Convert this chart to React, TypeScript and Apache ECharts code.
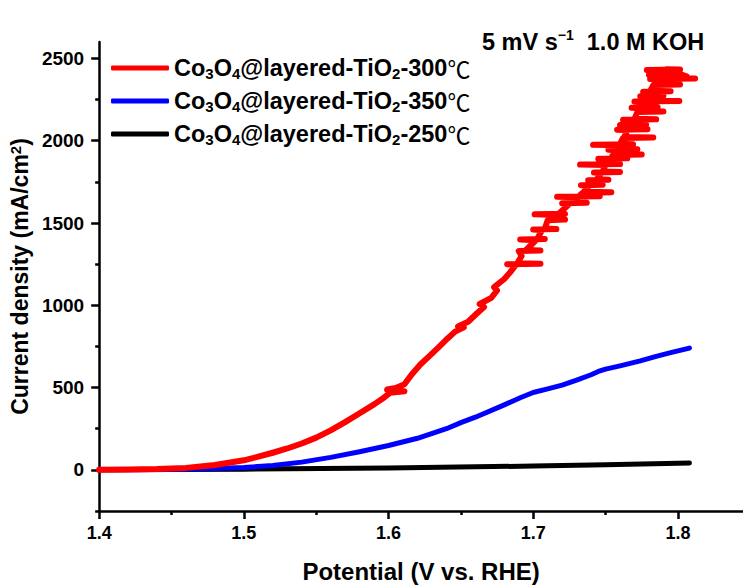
import { useEffect, useRef } from 'react';
import * as echarts from 'echarts';

// Potential (V vs. RHE) / current density (mA/cm2) pairs for each sample
const temps = ['300', '350', '250'];
const colors = ['#ff0000', '#0000ff', '#000000'];

const curve300: [number, number][] = [
  [1.4, 0], [1.42, 2], [1.44, 5], [1.46, 12], [1.48, 30], [1.5, 58], [1.51, 80],
  [1.52, 104], [1.53, 130], [1.54, 160], [1.55, 196], [1.56, 240], [1.57, 290],
  [1.58, 344], [1.59, 398], [1.597, 440], [1.601, 468], [1.611, 478], [1.599, 488],
  [1.605, 498], [1.611, 520], [1.616, 580], [1.622, 640], [1.628, 690], [1.634, 740],
  [1.641, 800], [1.646, 840], [1.652, 866], [1.648, 872], [1.655, 900], [1.661, 950],
  [1.666, 990], [1.663, 1008], [1.671, 1045], [1.675, 1090], [1.673, 1110],
  [1.68, 1160], [1.684, 1200], [1.688, 1246], [1.682, 1250], [1.705, 1253],
  [1.689, 1256], [1.692, 1300], [1.69, 1330], [1.705, 1333], [1.695, 1336],
  [1.702, 1396], [1.691, 1400], [1.708, 1403], [1.703, 1406], [1.706, 1456],
  [1.7, 1460], [1.716, 1463], [1.708, 1466], [1.71, 1517], [1.722, 1521],
  [1.712, 1524], [1.716, 1549], [1.701, 1553], [1.722, 1556], [1.718, 1560],
  [1.725, 1616], [1.72, 1620], [1.737, 1623], [1.727, 1626], [1.731, 1656],
  [1.7165, 1660], [1.746, 1663], [1.732, 1666], [1.734, 1683], [1.754, 1687],
  [1.735, 1690], [1.739, 1727], [1.733, 1730], [1.748, 1733], [1.74, 1736],
  [1.743, 1757], [1.738, 1760], [1.752, 1763], [1.744, 1766], [1.747, 1804],
  [1.742, 1807], [1.76, 1810], [1.748, 1813], [1.75, 1852], [1.7324, 1855],
  [1.76, 1858], [1.751, 1861], [1.753, 1887], [1.745, 1890], [1.765, 1893],
  [1.754, 1896], [1.755, 1913], [1.775, 1917], [1.756, 1920], [1.758, 1942],
  [1.752, 1945], [1.772, 1948], [1.759, 1951], [1.759, 1972], [1.7414, 1975],
  [1.769, 1978], [1.76, 1981], [1.762, 2016], [1.783, 2020], [1.763, 2023],
  [1.765, 2064], [1.758, 2067], [1.779, 2070], [1.766, 2073], [1.767, 2092],
  [1.76, 2095], [1.778, 2098], [1.768, 2101], [1.769, 2124], [1.7621, 2127],
  [1.785, 2130], [1.77, 2133], [1.772, 2174], [1.79, 2178], [1.773, 2181],
  [1.774, 2197], [1.768, 2200], [1.786, 2203], [1.775, 2206], [1.776, 2235],
  [1.77, 2238], [1.801, 2241], [1.777, 2244], [1.778, 2267], [1.774, 2270],
  [1.79, 2273], [1.779, 2276], [1.78, 2295], [1.776, 2298], [1.795, 2301],
  [1.781, 2304], [1.783, 2338], [1.8015, 2342], [1.784, 2345], [1.785, 2372],
  [1.7808, 2375], [1.8119, 2378], [1.786, 2381], [1.787, 2397], [1.78, 2400],
  [1.8, 2403], [1.788, 2406], [1.791, 2427], [1.7785, 2430], [1.8015, 2433],
  [1.792, 2434], [1.806, 2392],
];

const curve350: [number, number][] = [
  [1.4, 0], [1.45, 2], [1.48, 8], [1.5, 14], [1.52, 26], [1.54, 47], [1.56, 76],
  [1.58, 110], [1.6, 148], [1.62, 192], [1.64, 250], [1.65, 287], [1.66, 320],
  [1.68, 395], [1.691, 438], [1.7, 470], [1.71, 492], [1.72, 515], [1.73, 545],
  [1.74, 578], [1.745, 598], [1.75, 612], [1.76, 632], [1.774, 662], [1.785, 690],
  [1.795, 712], [1.808, 740],
];

const curve250: [number, number][] = [
  [1.4, 0], [1.5, 4], [1.6, 12], [1.7, 23], [1.75, 31], [1.8, 40], [1.808, 42],
];

const curves = [curve300, curve350, curve250];
const lineWidths = [6, 5, 5];

const xMajor = [1.4, 1.5, 1.6, 1.7, 1.8];
const xMinor = [1.45, 1.55, 1.65, 1.75];
const yMajor = [0, 500, 1000, 1500, 2000, 2500];
const yMinor = [-250, 250, 750, 1250, 1750, 2250];

const FONT = '"Liberation Sans", Arial, sans-serif';

const seriesName = (t: string) => `Co3O4@layered-TiO2-${t}℃`;
const richName = (name: string) => {
  const t = name.replace(/^.*-(\d+)℃$/, '$1');
  return `{t|Co}{s|3}{t|O}{s|4}{t|@layered-TiO}{s|2}{t|-${t}}{c|℃}`;
};

export default function App() {
  const ref = useRef<HTMLDivElement>(null);

  useEffect(() => {
    if (!ref.current) return;
    const chart = echarts.init(ref.current, null, { renderer: 'svg' });

    const axisX = { min: 1.4, max: 1.845 };
    const axisY = { min: -250, max: 2600 };

    chart.setOption({
      animation: false,
      backgroundColor: '#ffffff',
      textStyle: { fontFamily: FONT },
      grid: { left: 99, right: 0, top: 42, bottom: 74 },
      xAxis: [
        {
          type: 'value',
          ...axisX,
          position: 'bottom',
          name: 'Potential (V vs. RHE)',
          nameLocation: 'middle',
          nameGap: 48,
          nameTextStyle: { fontSize: 24, fontWeight: 'bold', color: '#000', fontFamily: FONT },
          axisLine: { onZero: false, lineStyle: { color: '#000', width: 2.5 } },
          axisTick: { customValues: xMajor, length: 8, inside: false, lineStyle: { color: '#000', width: 2.5 } },
          axisLabel: {
            customValues: xMajor,
            margin: 13,
            fontSize: 18,
            fontWeight: 'bold',
            color: '#000',
            formatter: (v: number) => v.toFixed(1),
          },
          splitLine: { show: false },
        },
        {
          type: 'value',
          ...axisX,
          position: 'bottom',
          axisLine: { show: false, onZero: false },
          axisTick: { customValues: xMinor, length: 4, lineStyle: { color: '#000', width: 2.5 } },
          axisLabel: { show: false },
          splitLine: { show: false },
        },
      ],
      yAxis: [
        {
          type: 'value',
          ...axisY,
          position: 'left',
          name: 'Current density (mA/cm{sup|2})',
          nameLocation: 'middle',
          nameGap: 54,
          nameTextStyle: {
            fontSize: 23,
            fontWeight: 'bold',
            color: '#000',
            fontFamily: FONT,
            rich: { sup: { fontSize: 15, fontWeight: 'bold', verticalAlign: 'top', lineHeight: 15, fontFamily: FONT } },
          },
          axisLine: { onZero: false, lineStyle: { color: '#000', width: 2.5 } },
          axisTick: { customValues: yMajor, length: 8, lineStyle: { color: '#000', width: 2.5 } },
          axisLabel: {
            customValues: yMajor,
            margin: 15,
            fontSize: 19,
            fontWeight: 'bold',
            color: '#000',
            formatter: (v: number) => String(v),
          },
          splitLine: { show: false },
        },
        {
          type: 'value',
          ...axisY,
          position: 'left',
          axisLine: { show: false, onZero: false },
          axisTick: { customValues: yMinor, length: 4, lineStyle: { color: '#000', width: 2.5 } },
          axisLabel: { show: false },
          splitLine: { show: false },
        },
      ],
      legend: {
        orient: 'vertical',
        left: 106,
        top: 51,
        itemWidth: 58,
        itemHeight: 5,
        itemGap: 8,
        icon: 'roundRect',
        formatter: richName,
        textStyle: {
          color: '#000',
          rich: {
            t: { fontSize: 23.5, fontWeight: 'bold', fontFamily: FONT, color: '#000', lineHeight: 26 },
            s: { fontSize: 15, fontWeight: 'bold', fontFamily: FONT, color: '#000', lineHeight: 14, verticalAlign: 'bottom' },
            c: { fontSize: 23, fontFamily: '"Noto Sans CJK SC"', color: '#000', lineHeight: 26 },
          },
        },
        data: temps.map(seriesName),
      },
      graphic: [
        {
          type: 'text',
          left: 482,
          top: 28,
          style: {
            text: '{a|5 mV s}{b|−1}{a|  1.0 M KOH}',
            rich: {
              a: { fontSize: 23.5, fontWeight: 'bold', fontFamily: FONT, fill: '#000', lineHeight: 27 },
              b: { fontSize: 14, fontWeight: 'bold', fontFamily: FONT, fill: '#000', lineHeight: 14, verticalAlign: 'top' },
            },
          },
        },
      ],
      series: curves.map((data, i) => ({
        type: 'line',
        name: seriesName(temps[i]),
        data,
        xAxisIndex: 0,
        yAxisIndex: 0,
        showSymbol: false,
        symbol: 'none',
        z: 10 - i,
        lineStyle: { color: colors[i], width: lineWidths[i], cap: 'round', join: 'round' },
        itemStyle: { color: colors[i] },
      })),
    });

    return () => chart.dispose();
  }, []);

  return <div ref={ref} style={{ width: 743, height: 588, position: 'fixed', left: 0, top: 0 }} />;
}
